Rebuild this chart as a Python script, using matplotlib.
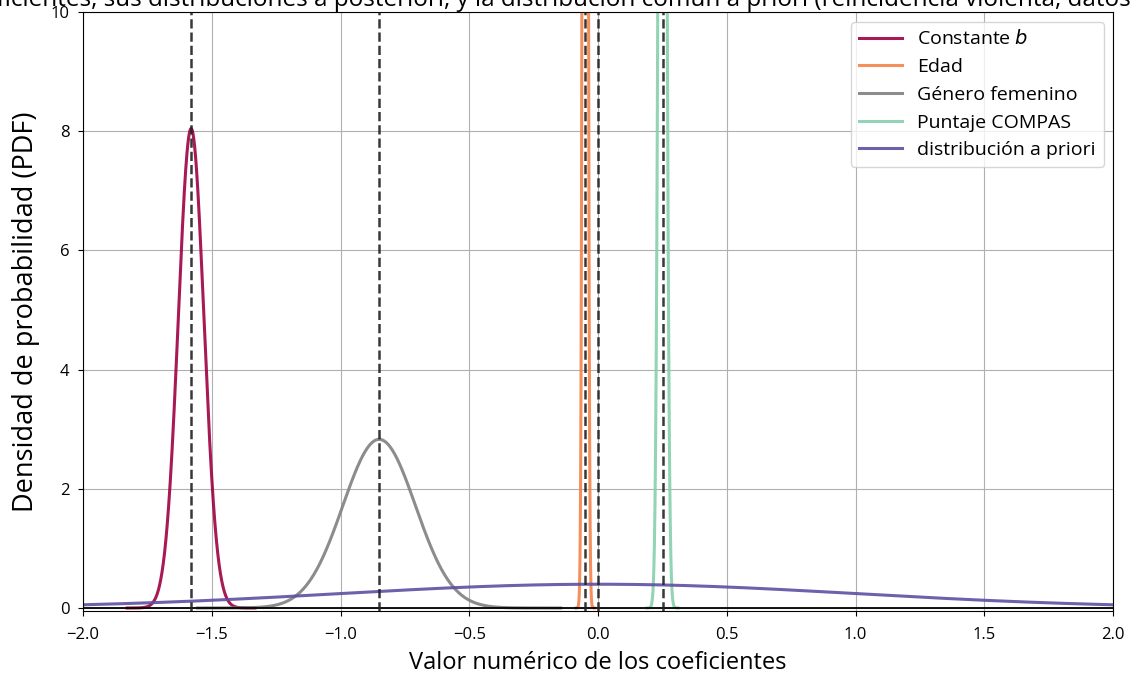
import numpy as np
import matplotlib
matplotlib.use("Agg")
import matplotlib.pyplot as plt

plt.rcParams["font.family"] = ["Open Sans", "DejaVu Sans"]
plt.rcParams["mathtext.fontset"] = "dejavusans"

# Posterior summaries (mean, std) of each coefficient and the shared prior
labels = ["Constante $b$", "Edad", "Género femenino", "Puntaje COMPAS"]
means = [-1.58, -0.05, -0.85, 0.25]
stds = [0.0496, 0.007, 0.141, 0.012]
colors = ["#9e0142", "#f3844a", "#808080", "#86d0ab"]

prior_label = "distribución a priori"
prior_mean = 0.0
prior_std = 1.0
prior_color = "#5e4fa2"


def normal_pdf(x, mu, sigma):
    return np.exp(-0.5 * ((x - mu) / sigma) ** 2) / (sigma * np.sqrt(2 * np.pi))


fig = plt.figure(figsize=(11.36, 6.8), dpi=100)
ax = fig.add_axes([0.073, 0.1015, 0.907, 0.881])

for lab, mu, sd, c in zip(labels, means, stds, colors):
    xs = np.linspace(mu - 5 * sd, mu + 5 * sd, 500)
    ax.plot(xs, normal_pdf(xs, mu, sd), color=c, lw=2.2, label=lab, alpha=0.9)

xp = np.linspace(-2, 2, 500)
ax.plot(xp, normal_pdf(xp, prior_mean, prior_std), color=prior_color, lw=2.2,
        label=prior_label, alpha=0.9)

for m in means + [prior_mean]:
    ax.axvline(m, color="#222222", ls="--", lw=1.8, alpha=0.9, zorder=5)

ax.axhline(0, color="black", lw=1.3)

ax.set_xlim(-2, 2)
ax.set_ylim(-0.05, 10)
ax.set_xticks(np.arange(-2, 2.01, 0.5))
ax.set_yticks(np.arange(0, 10.1, 2))
ax.tick_params(labelsize=12)
ax.tick_params(axis="x", pad=8)
ax.tick_params(axis="y", pad=6)
ax.grid(True, color="#b0b0b0", lw=0.8)
ax.set_axisbelow(True)

ax.set_xlabel("Valor numérico de los coeficientes", fontsize=17, labelpad=6)
ax.set_ylabel("Densidad de probabilidad (PDF)", fontsize=19.5, labelpad=8)
ax.set_title("Coeficientes, sus distribuciones a posteriori, y la distribución común a priori "
             "(reincidencia violenta, datos COMPAS)", fontsize=17.5, pad=0)

ax.legend(loc="upper right", fontsize=14, handlelength=2.2)

fig.savefig("out.png", dpi=100)
